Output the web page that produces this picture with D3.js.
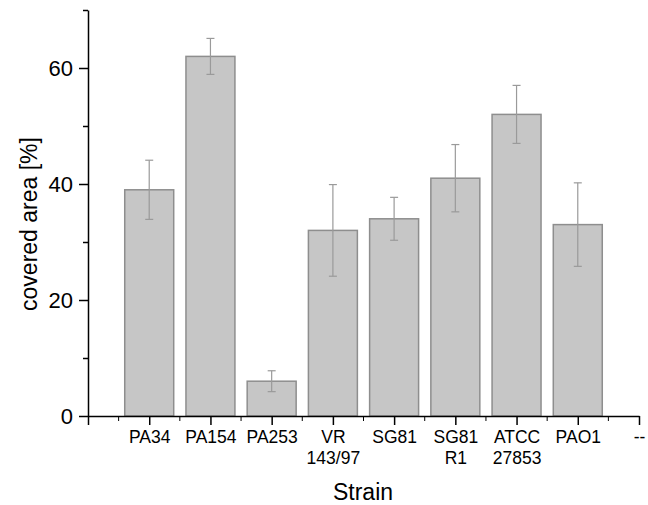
<!DOCTYPE html>
<html>
  <head>
    <meta charset="utf-8">
    <script src="https://d3js.org/d3.v7.min.js"></script>
    <style>
      body { margin: 0; background: #fff; }
      svg { display: block; font-family: "Liberation Sans", Arial, sans-serif; }
    </style>
  </head>
<body>
<script type="text/javascript">
    "use strict";

    // strain names ("" and "--" are the empty slots at both ends)
    var strains = ["", "PA34", "PA154", "PA253", "VR\n143/97", "SG81", "SG81\nR1", "ATCC\n27853", "PAO1", "--"];
    var barStrains = ["PA34", "PA154", "PA253", "VR\n143/97", "SG81", "SG81\nR1", "ATCC\n27853", "PAO1"];
    var covered = [39, 62, 6, 32, 34, 41, 52, 33];
    var errors = [5.1, 3.1, 1.8, 7.9, 3.7, 5.8, 5.0, 7.2];
    var majorTicks = [0, 20, 40, 60];
    var minorTicks = [10, 30, 50, 70];

    var width = 648, height = 505;

    var svg = d3.select("body").append("svg")
        .attr("width", width)
        .attr("height", height);

    var x = d3.scalePoint().domain(strains).range([88, 639]);
    var step = x.step();
    var y = d3.scaleLinear().domain([0, 70]).range([416, 10]);

    // bars
    svg.selectAll("rect.bar")
        .data(barStrains)
      .enter().append("rect")
        .attr("class", "bar")
        .attr("x", function(d) { return x(d) - step * 0.4; })
        .attr("width", step * 0.8)
        .attr("y", function(d, i) { return y(covered[i]); })
        .attr("height", function(d, i) { return y(0) - y(covered[i]); })
        .style("fill", "#c6c6c6")
        .style("stroke", "#8e8e8e")
        .style("stroke-width", 1.5);

    // error bars
    var eb = svg.selectAll("g.err")
        .data(barStrains)
      .enter().append("g")
        .attr("class", "err")
        .style("stroke", "#9a9a9a")
        .style("stroke-width", 1.2);

    eb.append("line")
        .attr("x1", function(d) { return x(d); })
        .attr("x2", function(d) { return x(d); })
        .attr("y1", function(d, i) { return y(covered[i] + errors[i]); })
        .attr("y2", function(d, i) { return y(covered[i] - errors[i]); });
    [1, -1].forEach(function(s) {
        eb.append("line")
            .attr("x1", function(d) { return x(d) - 4; })
            .attr("x2", function(d) { return x(d) + 4; })
            .attr("y1", function(d, i) { return y(covered[i] + s * errors[i]); })
            .attr("y2", function(d, i) { return y(covered[i] + s * errors[i]); });
    });

    // y axis
    var yAxis = svg.append("g")
        .attr("transform", "translate(88,0)")
        .call(d3.axisLeft(y).tickValues(majorTicks).tickSize(9).tickPadding(6).tickSizeOuter(0));
    yAxis.selectAll("text").style("font-size", "22px").style("fill", "#000");
    svg.append("g")
        .attr("transform", "translate(88,0)")
        .call(d3.axisLeft(y).tickValues(minorTicks).tickSize(5).tickFormat("").tickSizeOuter(0))
        .select(".domain").remove();

    // x axis
    var xAxis = svg.append("g")
        .attr("transform", "translate(0,416)")
        .call(d3.axisBottom(x).tickSize(9).tickPadding(6).tickSizeOuter(0));
    xAxis.selectAll("text")
        .style("font-size", "17.5px")
        .style("fill", "#000")
        .each(function(d) {
            var t = d3.select(this);
            var lines = d.split("\n");
            t.text(null);
            lines.forEach(function(l, k) {
                t.append("tspan")
                    .attr("x", 0)
                    .attr("dy", k === 0 ? "0.71em" : "1.2em")
                    .text(l);
            });
        });
    xAxis.selectAll("text").attr("dy", null);

    var halves = strains.slice(1).map(function(d) { return x(d) - step / 2; });
    svg.append("g").selectAll("line")
        .data(halves)
      .enter().append("line")
        .attr("x1", function(d) { return d; })
        .attr("x2", function(d) { return d; })
        .attr("y1", 416)
        .attr("y2", 421)
        .style("stroke", "#000");

    svg.selectAll(".domain, .tick line").style("stroke-width", 1.5);

    // axis titles
    svg.append("text")
        .attr("transform", "translate(37,224) rotate(-90)")
        .style("text-anchor", "middle")
        .style("font-size", "23px")
        .text("covered area [%]");

    svg.append("text")
        .attr("x", 363)
        .attr("y", 500)
        .style("text-anchor", "middle")
        .style("font-size", "23px")
        .text("Strain");
</script>
</body>
</html>
